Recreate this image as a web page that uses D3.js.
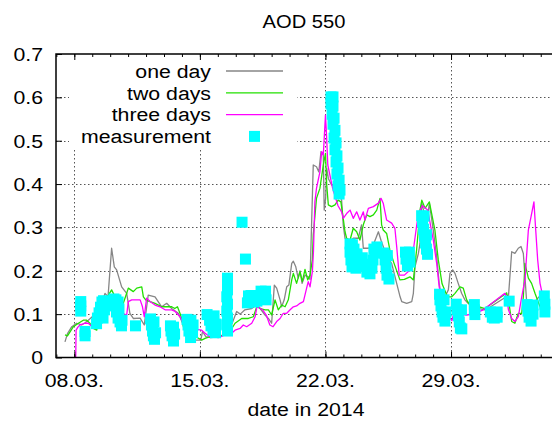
<!DOCTYPE html>
<html>
<head>
<meta charset="utf-8">
<script src="https://cdn.jsdelivr.net/npm/d3@7"></script>
<style>
  body { margin: 0; background: #fff; }
  svg { display: block; }
  text { font-family: "Liberation Sans", Arial, Helvetica, sans-serif; fill: #000; }
</style>
</head>
<body>
<svg id="chart" width="552" height="421"></svg>
<script>
// Forecast and measured AOD at 550 nm; x values are days of March 2014 (32 = 1 April)
const oneDay = [
  [7.48,0.036],[7.62,0.055],[7.86,0.071],[8.13,0.079],[8.41,0.075],[8.6,0.08],[8.78,0.086],[9.0,0.094],
  [9.25,0.102],[9.4,0.113],[9.53,0.125],[9.71,0.148],[9.88,0.14],[10.08,0.252],[10.23,0.209],[10.36,0.202],
  [10.64,0.163],[10.92,0.148],[11.1,0.102],[11.29,0.09],[11.67,0.091],[11.9,0.075],[12.12,0.144],[12.5,0.14],
  [12.87,0.117],[13.15,0.125],[13.43,0.113],[13.8,0.102],[14.08,0.075],[14.3,0.055],[14.6,0.04],[15.05,0.04],
  [15.15,0.06],[15.33,0.048],[15.6,0.046],[16.13,0.048],[16.68,0.066],[17.05,0.106],[17.25,0.1],[17.51,0.11],
  [17.89,0.113],[18.17,0.121],[18.36,0.113],[18.63,0.098],[18.82,0.09],[19.0,0.079],[19.15,0.167],[19.28,0.16],
  [19.47,0.133],[19.56,0.117],[19.7,0.133],[19.84,0.163],[19.96,0.167],[20.12,0.217],[20.21,0.222],[20.34,0.21],
  [20.48,0.183],[20.58,0.2],[20.7,0.171],[20.86,0.19],[21.04,0.186],[21.14,0.18],[21.32,0.444],[21.5,0.44],
  [21.63,0.428],[21.75,0.475],[21.88,0.467],[21.93,0.34],[22.01,0.367],[22.07,0.436],[22.16,0.413],[22.34,0.398],
  [22.53,0.394],[22.71,0.382],[22.9,0.363],[22.99,0.306],[23.09,0.275],[23.28,0.267],[23.55,0.275],[23.83,0.275],
  [24.01,0.306],[24.11,0.252],[24.39,0.252],[24.67,0.26],[24.95,0.29],[25.1,0.27],[25.22,0.256],[25.41,0.232],
  [25.69,0.217],[25.97,0.171],[26.16,0.14],[26.25,0.129],[26.53,0.125],[26.81,0.129],[26.9,0.148],[26.99,0.209],
  [27.18,0.24],[27.27,0.263],[27.37,0.356],[27.65,0.31],[27.79,0.356],[28.01,0.294],[28.2,0.232],[28.34,0.171],
  [28.48,0.133],[28.66,0.14],[28.85,0.156],[28.94,0.194],[29.09,0.202],[29.22,0.194],[29.4,0.171],[29.59,0.148],
  [29.77,0.133],[29.95,0.125],[30.3,0.115],[30.89,0.11],[31.05,0.113],[32.08,0.14],[32.2,0.14],[32.38,0.244],
  [32.56,0.24],[32.75,0.252],[32.9,0.256],[33.03,0.24],[33.12,0.186],[33.22,0.125],[33.4,0.117],[33.6,0.125],
  [33.9,0.14],[34.15,0.14]
];

const twoDays = [
  [7.48,0.052],[7.62,0.05],[7.95,0.071],[8.23,0.079],[8.5,0.086],[8.69,0.086],[8.87,0.079],[9.06,0.067],
  [9.25,0.063],[9.43,0.102],[9.62,0.129],[9.9,0.144],[10.08,0.156],[10.27,0.14],[10.55,0.137],[10.73,0.125],
  [10.92,0.148],[11.01,0.16],[11.29,0.152],[11.48,0.16],[11.76,0.163],[11.85,0.14],[11.98,0.133],[12.22,0.129],
  [12.5,0.125],[12.87,0.117],[13.15,0.117],[13.43,0.117],[13.6,0.113],[13.75,0.117],[13.89,0.102],[13.99,0.09],
  [14.08,0.071],[14.4,0.055],[14.9,0.045],[15.1,0.04],[15.29,0.044],[15.56,0.048],[16.13,0.048],[16.68,0.06],
  [16.96,0.079],[17.33,0.09],[17.7,0.09],[17.98,0.094],[18.17,0.117],[18.36,0.113],[18.64,0.11],[18.82,0.11],
  [19.0,0.098],[19.19,0.133],[19.37,0.11],[19.56,0.121],[19.75,0.117],[19.93,0.133],[20.12,0.179],[20.21,0.194],
  [20.39,0.171],[20.58,0.198],[20.71,0.175],[20.86,0.203],[21.01,0.179],[21.14,0.19],[21.27,0.225],[21.32,0.283],
  [21.5,0.367],[21.69,0.39],[21.88,0.444],[22.0,0.471],[22.07,0.398],[22.16,0.352],[22.34,0.348],[22.53,0.352],
  [22.71,0.363],[22.86,0.359],[22.99,0.321],[23.09,0.29],[23.18,0.275],[23.37,0.271],[23.55,0.298],[23.74,0.29],
  [23.92,0.271],[24.11,0.306],[24.3,0.329],[24.48,0.325],[24.67,0.329],[24.86,0.34],[25.04,0.367],[25.13,0.306],
  [25.22,0.294],[25.41,0.286],[25.59,0.248],[25.8,0.22],[26.15,0.179],[26.4,0.18],[26.71,0.186],[26.9,0.179],
  [27.08,0.248],[27.27,0.34],[27.37,0.363],[27.55,0.344],[27.79,0.359],[27.92,0.332],[28.1,0.294],[28.29,0.225],
  [28.5,0.17],[28.8,0.14],[29.04,0.14],[29.22,0.148],[29.5,0.163],[29.68,0.16],[29.87,0.133],[30.05,0.121],
  [30.3,0.12],[30.89,0.113],[32.1,0.149],[32.2,0.133],[32.38,0.083],[32.56,0.079],[32.75,0.102],[32.94,0.102],
  [33.03,0.14],[33.12,0.217],[33.31,0.183],[33.49,0.171],[33.68,0.148],[33.96,0.117],[34.15,0.12]
];

const threeDays = [
  [8.08,0.0],[8.1,0.063],[8.2,0.07],[8.32,0.075],[8.6,0.079],[8.78,0.079],[9.0,0.071],[9.3,0.08],
  [9.7,0.1],[9.99,0.11],[10.18,0.113],[10.5,0.105],[10.92,0.098],[11.01,0.129],[11.2,0.133],[11.67,0.133],
  [11.8,0.117],[11.9,0.094],[12.03,0.137],[12.22,0.129],[12.5,0.121],[12.78,0.117],[13.06,0.11],[13.43,0.11],
  [13.62,0.106],[13.89,0.094],[14.08,0.079],[14.3,0.07],[14.8,0.065],[15.1,0.063],[15.29,0.056],[15.56,0.048],
  [16.03,0.046],[16.4,0.052],[16.77,0.056],[16.96,0.063],[17.24,0.067],[17.42,0.075],[17.61,0.071],[17.89,0.079],
  [18.08,0.094],[18.2,0.121],[18.36,0.113],[18.5,0.11],[18.7,0.098],[18.9,0.075],[19.08,0.071],[19.28,0.083],
  [19.47,0.09],[19.65,0.102],[19.84,0.102],[20.03,0.11],[20.21,0.117],[20.39,0.119],[20.58,0.125],[20.77,0.129],
  [20.95,0.16],[21.04,0.175],[21.14,0.163],[21.27,0.198],[21.33,0.244],[21.41,0.359],[21.5,0.39],[21.69,0.428],
  [21.79,0.475],[21.88,0.467],[22.0,0.559],[22.06,0.513],[22.13,0.444],[22.4,0.39],[22.7,0.35],[22.9,0.336],
  [22.99,0.321],[23.18,0.332],[23.37,0.34],[23.55,0.321],[23.74,0.336],[23.92,0.317],[24.11,0.336],[24.2,0.317],
  [24.39,0.344],[24.67,0.348],[24.95,0.356],[25.1,0.367],[25.22,0.356],[25.41,0.317],[25.69,0.31],[25.87,0.298],
  [25.97,0.256],[26.11,0.19],[26.4,0.19],[26.71,0.202],[26.9,0.248],[27.05,0.294],[27.18,0.332],[27.4,0.35],
  [27.7,0.34],[28.01,0.271],[28.2,0.217],[28.34,0.163],[28.6,0.11],[29.05,0.085],[29.2,0.11],[29.4,0.1],
  [29.87,0.098],[30.2,0.1],[30.8,0.11],[32.0,0.148],[32.1,0.14],[32.2,0.11],[32.38,0.09],[32.56,0.083],
  [32.75,0.094],[32.94,0.14],[33.12,0.179],[33.31,0.294],[33.46,0.325],[33.62,0.359],[33.72,0.294],[33.83,0.225],
  [33.96,0.171],[34.08,0.148],[34.2,0.14]
];

const measurement = [
  [8.36,0.129],[8.36,0.119],[8.36,0.107],[8.6,0.06],[8.6,0.05],
  [9.24,0.078],[9.29,0.091],[9.38,0.103],[9.46,0.116],[9.54,0.128],[9.63,0.131],[9.68,0.11],[9.6,0.091],
  [10.21,0.135],[10.32,0.133],[10.44,0.128],[10.24,0.119],[10.35,0.105],[10.44,0.091],[10.55,0.082],[10.63,0.073],
  [10.66,0.086],[10.49,0.112],[11.41,0.073],
  [12.25,0.089],[12.3,0.075],[12.36,0.061],[12.41,0.05],[12.47,0.042],[12.53,0.057],[12.44,0.082],
  [13.36,0.073],[13.39,0.061],[13.45,0.05],[13.53,0.038],[13.59,0.054],[13.53,0.07],
  [14.28,0.088],[14.34,0.075],[14.39,0.061],[14.48,0.046],[14.59,0.057],[14.62,0.075],[14.5,0.086],
  [15.4,0.099],[15.54,0.086],[15.62,0.073],[15.73,0.063],[15.87,0.057],[15.9,0.077],[15.79,0.096],
  [16.54,0.061],[16.5,0.075],[16.54,0.091],[16.5,0.107],[16.54,0.123],[16.5,0.14],[16.54,0.156],[16.54,0.172],[16.54,0.183],
  [17.35,0.312],[17.54,0.227],
  [17.65,0.126],[17.71,0.142],[17.85,0.143],[17.99,0.128],[18.18,0.13],[18.41,0.153],[18.52,0.142],[18.66,0.153],[18.69,0.133],
  [22.31,0.601],[22.42,0.601],[22.31,0.585],[22.42,0.58],[22.37,0.561],[22.48,0.552],[22.42,0.538],[22.53,0.524],
  [22.48,0.506],[22.59,0.495],[22.53,0.479],[22.64,0.465],[22.59,0.451],[22.7,0.437],[22.64,0.423],[22.76,0.409],
  [22.7,0.396],[22.81,0.386],[22.76,0.377],
  [23.37,0.262],[23.37,0.243],[23.42,0.225],[23.48,0.209],[23.7,0.206],[23.92,0.211],[24.14,0.213],[24.31,0.197],
  [24.48,0.193],[24.59,0.206],[24.65,0.225],[24.76,0.241],[24.87,0.255],[23.76,0.239],[23.59,0.25],
  [23.55,0.228],[23.85,0.225],[24.05,0.23],[24.25,0.215],[24.4,0.21],[24.7,0.25],[23.5,0.26],
  [25.27,0.241],[25.32,0.225],[25.38,0.206],[25.43,0.19],[25.54,0.181],[25.45,0.235],
  [26.46,0.243],[26.49,0.227],[26.57,0.211],[26.68,0.243],[26.71,0.22],
  [27.36,0.327],[27.41,0.313],[27.47,0.296],[27.52,0.28],[27.58,0.264],[27.63,0.25],[27.69,0.238],[27.5,0.326],[27.63,0.283],
  [28.36,0.146],[28.38,0.133],[28.44,0.119],[28.5,0.105],[28.55,0.093],[28.66,0.084],[28.72,0.105],[28.61,0.133],
  [29.29,0.123],[29.35,0.11],[29.41,0.096],[29.46,0.082],[29.52,0.068],[29.6,0.066],[29.58,0.11],
  [30.3,0.122],[30.3,0.11],[30.33,0.099],
  [31.19,0.105],[31.3,0.093],[31.41,0.091],[31.57,0.105],[31.57,0.093],
  [32.24,0.13],
  [33.24,0.122],[33.29,0.107],[33.35,0.093],[33.46,0.084],[33.57,0.1],[33.57,0.121],
  [34.2,0.142],[34.23,0.123],[34.23,0.105]
];

const yTicks = [0, 0.1, 0.2, 0.3, 0.4, 0.5, 0.6, 0.7];
const xMajorDays = [8, 15, 22, 29];

const seriesInfo = [
  { name: "one day", data: oneDay, color: "#868686" },
  { name: "two days", data: twoDays, color: "#22e000" },
  { name: "three days", data: threeDays, color: "#ff00ff" }
];
const measColor = "#00ffff";

// day-of-March number to UTC date
const toDate = d => new Date(Date.UTC(2014, 2, 1) + (d - 1) * 864e5);

const svg = d3.select("#chart");
const plot = { left: 56, top: 54, right: 560, bottom: 357.5 };
const dayPx = 17.94;
const fontSize = 19, stretch = 1.12;   // glyphs are drawn slightly widened

const x = d3.scaleUtc()
  .domain([toDate(7), toDate(35)])
  .range([56.36, 56.36 + 28 * dayPx]);
const y = d3.scaleLinear().domain([0, 0.7]).range([plot.bottom, plot.top]);

svg.append("defs").append("clipPath").attr("id", "plotclip")
  .append("rect").attr("x", plot.left).attr("y", plot.top)
  .attr("width", plot.right - plot.left).attr("height", plot.bottom - plot.top);

// dotted grid
const grid = svg.append("g").attr("stroke", "#555").attr("stroke-width", 1).attr("stroke-dasharray", "1.5,2.5");
grid.selectAll("line.h").data(yTicks.filter(v => v > 0 && v < 0.7)).join("line")
  .attr("x1", plot.left).attr("x2", plot.right)
  .attr("y1", d => Math.round(y(d)) + 0.5).attr("y2", d => Math.round(y(d)) + 0.5);
grid.selectAll("line.v").data(xMajorDays).join("line")
  .attr("x1", d => Math.round(x(toDate(d))) + 0.5).attr("x2", d => Math.round(x(toDate(d))) + 0.5)
  .attr("y1", plot.top).attr("y2", plot.bottom);

// key background hides the grid behind it
svg.append("rect").attr("x", 69).attr("y", plot.top + 1).attr("width", 228).attr("height", 94).attr("fill", "#fff");

// forecast lines
const line = d3.line().x(p => x(toDate(p[0]))).y(p => y(p[1]));
const lines = svg.append("g").attr("clip-path", "url(#plotclip)");
seriesInfo.forEach(s => {
  lines.append("path").datum(s.data).attr("d", line)
    .attr("fill", "none").attr("stroke", s.color).attr("stroke-width", 1.3)
    .attr("stroke-linejoin", "round");
});

// measurements as filled squares
const sq = 11;
lines.append("g").selectAll("rect").data(measurement).join("rect")
  .attr("x", p => x(toDate(p[0])) - sq / 2).attr("y", p => y(p[1]) - sq / 2)
  .attr("width", sq).attr("height", sq).attr("fill", measColor);

// frame
svg.append("rect").attr("x", plot.left).attr("y", plot.top)
  .attr("width", plot.right - plot.left).attr("height", plot.bottom - plot.top)
  .attr("fill", "none").attr("stroke", "#000").attr("stroke-width", 1.5);

// widened text helper: places text at (tx, ty) with a horizontal stretch
function label(g, tx, ty, str, anchor, size) {
  return g.append("text")
    .attr("transform", `translate(${tx},${ty}) scale(${stretch},1)`)
    .attr("text-anchor", anchor).attr("font-size", size || fontSize).text(str);
}

// axes: ticks point inward, mirrored on top
const xMinor = d3.utcDay.range(toDate(7), toDate(35));
const bottomAxis = d3.axisBottom(x).tickValues(xMajorDays.map(toDate)).tickSize(-6).tickFormat("");
svg.append("g").attr("transform", `translate(0,${plot.bottom})`).call(bottomAxis).select(".domain").remove();
const minorB = d3.axisBottom(x).tickValues(xMinor).tickSize(-3).tickFormat("");
svg.append("g").attr("transform", `translate(0,${plot.bottom})`).call(minorB).select(".domain").remove();
const topAxis = d3.axisTop(x).tickValues(xMajorDays.map(toDate)).tickSize(-6).tickFormat("");
svg.append("g").attr("transform", `translate(0,${plot.top})`).call(topAxis).select(".domain").remove();
const minorT = d3.axisTop(x).tickValues(xMinor).tickSize(-3).tickFormat("");
svg.append("g").attr("transform", `translate(0,${plot.top})`).call(minorT).select(".domain").remove();
const leftAxis = d3.axisLeft(y).tickValues(yTicks).tickSize(-6).tickFormat("");
svg.append("g").attr("transform", `translate(${plot.left},0)`).call(leftAxis).select(".domain").remove();
svg.selectAll(".tick line").attr("stroke", "#000");

// tick labels
const fmtDate = d3.utcFormat("%d.%m.");
const labels = svg.append("g");
xMajorDays.forEach(d => label(labels, x(toDate(d)), 387, fmtDate(toDate(d)), "middle"));
yTicks.forEach(v => label(labels, 43, y(v) + 6.8, v === 0 ? "0" : d3.format(".1f")(v), "end"));

// titles
label(labels, 304, 28, "AOD 550", "middle", 18);
label(labels, 306, 416, "date in 2014", "middle");

// key
const key = svg.append("g");
const keyRows = [...seriesInfo.map(s => ({ name: s.name, color: s.color, kind: "line" })),
  { name: "measurement", color: measColor, kind: "square" }];
keyRows.forEach((r, i) => {
  const cy = 71 + i * 21.8;
  label(key, 211, cy + 6.8, r.name, "end");
  if (r.kind === "line") {
    key.append("line").attr("x1", 226).attr("x2", 283).attr("y1", cy).attr("y2", cy)
      .attr("stroke", r.color).attr("stroke-width", 1.3);
  } else {
    key.append("rect").attr("x", 254.5 - sq / 2).attr("y", cy - sq / 2)
      .attr("width", sq).attr("height", sq).attr("fill", r.color);
  }
});
</script>
</body>
</html>
